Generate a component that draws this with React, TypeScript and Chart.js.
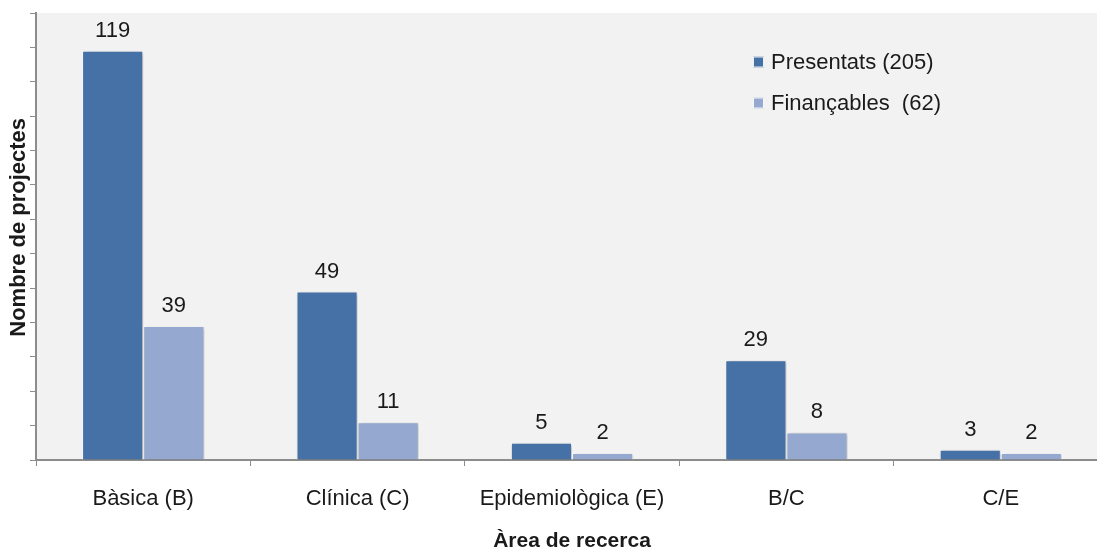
import React, { useEffect, useRef } from 'react';
import { Chart, registerables } from 'chart.js';

Chart.register(...registerables);

const categories = ['Bàsica (B)', 'Clínica (C)', 'Epidemiològica (E)', 'B/C', 'C/E'];
const presentats = [119, 49, 5, 29, 3];
const financables = [39, 11, 2, 8, 2];
const seriesLabels = ['Presentats (205)', 'Finançables  (62)'];
const yMax = 130;
const yStep = 10;

const FONT = '"Liberation Sans", Arial, sans-serif';
const DARK = '#4571A6';
const LIGHT = '#95A9D0';
const AXIS = '#8C8C8C';
const TEXT = '#1A1A1A';

const bgPlugin = {
  id: 'plotBg',
  beforeDraw(chart: any) {
    const { ctx, chartArea } = chart;
    ctx.save();
    ctx.fillStyle = '#F2F2F2';
    ctx.fillRect(chartArea.left, chartArea.top, chartArea.right - chartArea.left, chartArea.bottom - chartArea.top);
    ctx.restore();
  },
};

const shadowPlugin = {
  id: 'barShadow',
  beforeDatasetsDraw(chart: any) {
    const ctx = chart.ctx;
    ctx.save();
    ctx.shadowColor = 'rgba(0,0,0,0.28)';
    ctx.shadowBlur = 4;
    ctx.shadowOffsetX = 1.5;
    ctx.shadowOffsetY = 1;
  },
  afterDatasetsDraw(chart: any) {
    chart.ctx.restore();
  },
};

const valueLabelPlugin = {
  id: 'valueLabels',
  afterDatasetsDraw(chart: any) {
    const ctx = chart.ctx;
    ctx.save();
    ctx.font = `22px ${FONT}`;
    ctx.fillStyle = TEXT;
    ctx.textAlign = 'center';
    ctx.textBaseline = 'alphabetic';
    chart.data.datasets.forEach((ds: any, i: number) => {
      const meta = chart.getDatasetMeta(i);
      meta.data.forEach((el: any, j: number) => {
        ctx.fillText(String(ds.data[j]), el.x, el.y - 14);
      });
    });
    ctx.restore();
  },
};

const legendPlugin = {
  id: 'innerLegend',
  afterDraw(chart: any) {
    const { ctx, chartArea } = chart;
    const x0 = chartArea.left + 717;
    const y0 = chartArea.top + 49;
    const gap = 41;
    ctx.save();
    ctx.font = `22px ${FONT}`;
    ctx.textBaseline = 'middle';
    ctx.textAlign = 'left';
    chart.data.datasets.forEach((ds: any, i: number) => {
      const y = y0 + i * gap;
      ctx.fillStyle = ds.backgroundColor;
      ctx.fillRect(x0, y - 5.5, 11, 11);
      ctx.strokeStyle = 'rgba(255,255,255,0.9)';
      ctx.lineWidth = 1;
      ctx.strokeRect(x0 + 0.5, y - 5, 10, 10);
      ctx.fillStyle = TEXT;
      ctx.fillText(ds.label, x0 + 18, y + 1);
    });
    ctx.restore();
  },
};

export default function App() {
  const canvasRef = useRef<HTMLCanvasElement | null>(null);

  useEffect(() => {
    if (!canvasRef.current) return;
    const chart = new Chart(canvasRef.current, {
      type: 'bar',
      data: {
        labels: categories,
        datasets: [
          {
            label: seriesLabels[0],
            data: presentats,
            backgroundColor: DARK,
            borderColor: 'rgba(255,255,255,0.95)',
            borderWidth: 1,
            categoryPercentage: 0.57,
            barPercentage: 1,
          },
          {
            label: seriesLabels[1],
            data: financables,
            backgroundColor: LIGHT,
            borderColor: 'rgba(255,255,255,0.95)',
            borderWidth: 1,
            categoryPercentage: 0.57,
            barPercentage: 1,
          },
        ],
      },
      options: {
        animation: false,
        responsive: false,
        maintainAspectRatio: false,
        devicePixelRatio: 1,
        layout: { padding: { left: 8, top: 13, right: 0, bottom: 2 } },
        plugins: {
          legend: { display: false },
          tooltip: { enabled: false },
          title: { display: false },
        },
        scales: {
          x: {
            offset: true,
            grid: {
              offset: true,
              drawOnChartArea: false,
              drawTicks: true,
              tickLength: 6,
              color: AXIS,
              lineWidth: 1,
            },
            border: { display: true, color: AXIS, width: 2 },
            ticks: {
              padding: 19.8,
              color: TEXT,
              font: { family: FONT, size: 22, lineHeight: 1.2 },
              maxRotation: 0,
              autoSkip: false,
            },
            title: {
              display: true,
              text: 'Àrea de recerca',
              color: TEXT,
              font: { family: FONT, size: 21, weight: 'bold', lineHeight: 1 },
              padding: { top: -1.5, bottom: 0.5 },
            },
          },
          y: {
            min: 0,
            max: yMax,
            grid: {
              drawOnChartArea: false,
              drawTicks: true,
              tickLength: 6,
              color: AXIS,
              lineWidth: 1,
            },
            border: { display: true, color: AXIS, width: 2 },
            ticks: { display: false, stepSize: yStep },
            title: {
              display: true,
              text: '   Nombre de projectes',
              color: TEXT,
              font: { family: FONT, size: 22, weight: 'bold', lineHeight: 1 },
              padding: { top: 0, bottom: 0 },
            },
          },
        },
      },
      plugins: [bgPlugin, shadowPlugin, valueLabelPlugin, legendPlugin],
    });
    return () => chart.destroy();
  }, []);

  return (
    <div style={{ position: 'fixed', left: 0, top: 0, width: 1097, height: 554, overflow: 'hidden', background: '#fff' }}>
      <canvas ref={canvasRef} width={1108} height={554} style={{ display: 'block', width: 1108, height: 554 }} />
    </div>
  );
}
